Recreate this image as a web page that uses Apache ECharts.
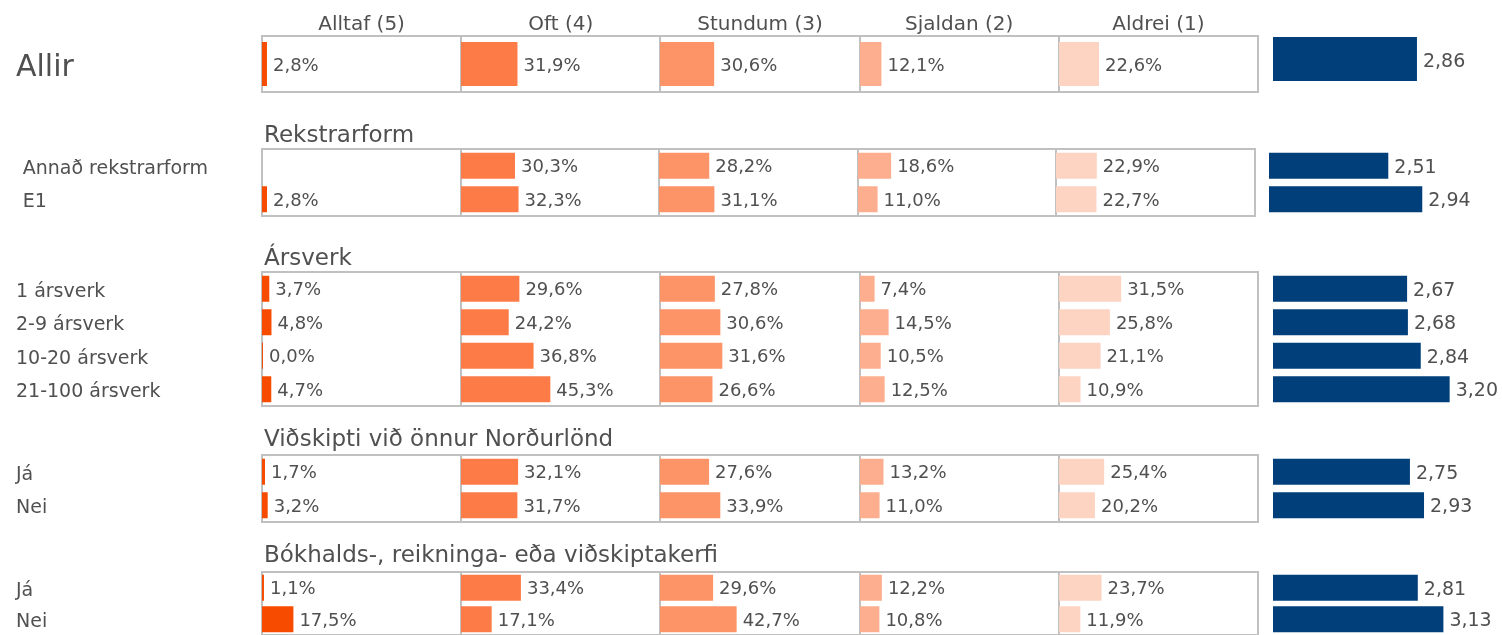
<!DOCTYPE html>
<html>
<head>
<meta charset="utf-8">
<script src="https://cdn.jsdelivr.net/npm/echarts@6/dist/echarts.min.js"></script>
<style>
html,body{margin:0;padding:0;background:#fff;}
#c{width:1502px;height:635px;}
</style>
</head>
<body>
<div id="c"></div>
<script>
// ---- data ----
const columns = ['Alltaf (5)', 'Oft (4)', 'Stundum (3)', 'Sjaldan (2)', 'Aldrei (1)'];
const groupTitles = ['', 'Rekstrarform', 'Ársverk', 'Viðskipti við önnur Norðurlönd', 'Bókhalds-, reikninga- eða viðskiptakerfi'];

const rowsAllir = ['Allir'];
const rowsRekstur = ['Annað rekstrarform', 'E1'];
const rowsArsverk = ['1 ársverk', '2-9 ársverk', '10-20 ársverk', '21-100 ársverk'];
const rowsNord = ['Já', 'Nei'];
const rowsBok = ['Já', 'Nei'];

const pctAllir = [[2.8, 31.9, 30.6, 12.1, 22.6]];
const pctRekstur = [[null, 30.3, 28.2, 18.6, 22.9], [2.8, 32.3, 31.1, 11.0, 22.7]];
const pctArsverk = [[3.7, 29.6, 27.8, 7.4, 31.5], [4.8, 24.2, 30.6, 14.5, 25.8], [0.0, 36.8, 31.6, 10.5, 21.1], [4.7, 45.3, 26.6, 12.5, 10.9]];
const pctNord = [[1.7, 32.1, 27.6, 13.2, 25.4], [3.2, 31.7, 33.9, 11.0, 20.2]];
const pctBok = [[1.1, 33.4, 29.6, 12.2, 23.7], [17.5, 17.1, 42.7, 10.8, 11.9]];

const meanAllir = [2.86];
const meanRekstur = [2.51, 2.94];
const meanArsverk = [2.67, 2.68, 2.84, 3.20];
const meanNord = [2.75, 2.93];
const meanBok = [2.81, 3.13];

// ---- layout / style ----
const groups = [
  {rows: rowsAllir, pct: pctAllir, mean: meanAllir},
  {rows: rowsRekstur, pct: pctRekstur, mean: meanRekstur},
  {rows: rowsArsverk, pct: pctArsverk, mean: meanArsverk},
  {rows: rowsNord, pct: pctNord, mean: meanNord},
  {rows: rowsBok, pct: pctBok, mean: meanBok}
];
const layout = [
  {top: 36, h: 56, bar: 44, cellW: 199.2, pctMax: 112.5, meanLeft: 1273, meanTop: 31, meanMin: 1, meanK: 77.4, titleY: null, labelX: 16, labelSize: 30, labelShift: 4},
  {top: 149, h: 67, bar: 26, cellW: 198.6, pctMax: 111.5, meanLeft: 1269, meanTop: 149, meanMin: 1, meanK: 79, titleY: 136, labelX: 22.7, labelSize: 19, labelShift: 3},
  {top: 272, h: 134, bar: 26, cellW: 199.2, pctMax: 101, meanLeft: 1273, meanTop: 272, meanMin: 1, meanK: 80.3, titleY: 259, labelX: 16, labelSize: 19, labelShift: 3},
  {top: 455, h: 67, bar: 26, cellW: 199.2, pctMax: 112, meanLeft: 1273, meanTop: 455, meanMin: 1, meanK: 78.25, titleY: 440, labelX: 16, labelSize: 19, labelShift: 3},
  {top: 572, h: 67, bar: 26, cellW: 199.2, pctMax: 111, meanLeft: 1273, meanTop: 572, meanMin: 1, meanK: 80, titleY: 556, labelX: 16, labelSize: 19, labelShift: 3}
];
const colColors = ['#F74C00', '#FD7B47', '#FC9467', '#FCAE8E', '#FDD3C1'];
const meanColor = '#003F7A';
const textColor = '#505050';
const borderColor = '#C0C0C0';
const FONT = 'DejaVu Sans';
const boxLeft = 262;

const grid = [], xAxis = [], yAxis = [], series = [], graphic = [];

columns.forEach((name, c) => {
  graphic.push({
    type: 'text', x: boxLeft + 199.2 * (c + 0.5), y: 25,
    style: {text: name, font: '20px "' + FONT + '"', fill: textColor, align: 'center', verticalAlign: 'middle'}
  });
});

groups.forEach((g, gi) => {
  const L = layout[gi];
  if (groupTitles[gi]) {
    graphic.push({
      type: 'text', x: 264, y: L.titleY,
      style: {text: groupTitles[gi], font: '23px "' + FONT + '"', fill: textColor, align: 'left', verticalAlign: 'middle'}
    });
  }
  for (let c = 0; c < 5; c++) {
    const idx = grid.length;
    const left = Math.round(boxLeft + L.cellW * c);
    const right = Math.round(boxLeft + L.cellW * (c + 1));
    grid.push({left: left, top: L.top, width: right - left, height: L.h,
      show: true, borderColor: borderColor, borderWidth: 2, backgroundColor: 'transparent', containLabel: false});
    xAxis.push({gridIndex: idx, type: 'value', min: 0, max: L.pctMax * (right - left) / L.cellW, show: false});
    yAxis.push({gridIndex: idx, type: 'category', data: g.rows, inverse: true,
      axisLine: {show: false}, axisTick: {show: false}, splitLine: {show: false},
      axisLabel: c === 0 ? {show: true, align: 'left', verticalAlign: 'top', lineHeight: 2 * L.labelShift,
        margin: boxLeft - L.labelX, fontSize: L.labelSize, fontFamily: FONT, color: textColor} : {show: false}
    });
    series.push({
      type: 'bar', xAxisIndex: idx, yAxisIndex: idx, barWidth: L.bar, barMinHeight: c === 0 ? 1 : 0,
      data: g.pct.map(r => r[c]),
      itemStyle: {color: colColors[c]},
      label: {show: true, position: 'right', distance: 6, offset: [0, 2], fontSize: 18, fontFamily: FONT, color: textColor,
        formatter: p => (p.value == null ? '' : p.value.toFixed(1).replace('.', ',') + '%')}
    });
  }
  const mi = grid.length;
  const mW = 200;
  grid.push({left: L.meanLeft, top: L.meanTop, width: mW, height: L.h, show: false});
  xAxis.push({gridIndex: mi, type: 'value', min: L.meanMin, max: L.meanMin + mW / L.meanK, show: false});
  yAxis.push({gridIndex: mi, type: 'category', data: g.rows, inverse: true, show: false});
  series.push({
    type: 'bar', xAxisIndex: mi, yAxisIndex: mi, barWidth: L.bar,
    data: g.mean,
    itemStyle: {color: meanColor},
    label: {show: true, position: 'right', distance: 6, offset: [0, gi === 0 ? 3 : 2], fontSize: 19, fontFamily: FONT, color: textColor,
      formatter: p => p.value.toFixed(2).replace('.', ',')}
  });
});

const chart = echarts.init(document.getElementById('c'), null, {renderer: 'canvas'});
chart.setOption({
  animation: false,
  backgroundColor: '#fff',
  textStyle: {fontFamily: FONT},
  grid, xAxis, yAxis, series, graphic
});
</script>
</body>
</html>
